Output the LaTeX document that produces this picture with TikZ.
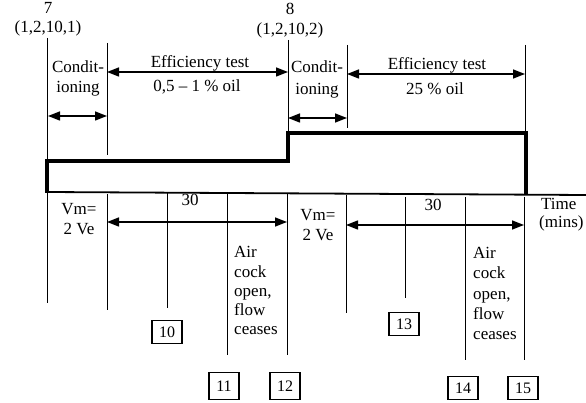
\documentclass[tikz,border=0pt]{standalone}
\usepackage{fontspec}
\setmainfont{Liberation Serif}
\usetikzlibrary{arrows.meta}
\begin{document}
\begin{tikzpicture}[x=1pt,y=-1pt,
  txt/.style={font=\fontsize{17}{20}\selectfont, inner sep=0pt, anchor=base},
  txtl/.style={txt, anchor=base west},
  guide/.style={line width=0.9pt},
  dim/.style={line width=1.4pt, {Triangle[length=12pt,width=9pt]}-{Triangle[length=12pt,width=9pt]}},
  wave/.style={line width=3.5pt, line join=miter},
  numbox/.style={draw, line width=1.2pt, minimum width=30pt, minimum height=23pt, inner sep=0pt, font=\fontsize{16}{18}\selectfont}
]
\useasboundingbox (0,0) rectangle (586,403);

% guide lines
\draw[guide] (47,38) -- (47,303);
\draw[guide] (107,43) -- (107,155);
\draw[guide] (107,194) -- (107,310);
\draw[guide] (167,193) -- (167,308);
\draw[guide] (227,194) -- (227,355);
\draw[guide] (288,40) -- (288,133);
\draw[guide] (287,194) -- (287,355);
\draw[guide] (347,45) -- (347,128);
\draw[guide] (346,195) -- (346,313);
\draw[guide] (405,197) -- (405,298);
\draw[guide] (465,197) -- (465,360);
\draw[guide] (525,45) -- (525,133);
\draw[guide] (524,197) -- (524,360);

% waveform and time axis
\draw[line width=1.8pt] (47,192) -- (586,195);
\draw[wave] (47,193) -- (47,161) -- (288,161) -- (288,133) -- (526,133) -- (526,195);

% dimension arrows
\coordinate (c1a) at (48,116);  \coordinate (c1b) at (107,116);
\coordinate (e1a) at (107,72);  \coordinate (e1b) at (288,72);
\coordinate (c2a) at (288,118); \coordinate (c2b) at (347,118);
\coordinate (e2a) at (347,74);  \coordinate (e2b) at (525,74);
\coordinate (t1a) at (107,222); \coordinate (t1b) at (287,222);
\coordinate (t2a) at (346,225); \coordinate (t2b) at (524,225);
\draw[dim] (c1a) -- (c1b);
\draw[dim] (e1a) -- (e1b);
\draw[dim] (c2a) -- (c2b);
\draw[dim] (e2a) -- (e2b);
\draw[dim] (t1a) -- (t1b);
\draw[dim] (t2a) -- (t2b);

% top labels
\node[txt] (n7) at (48,14) {7};
\node[txt] (r7) at (48,33) {(1,2,10,1)};
\node[txt] (n8) at (290,15) {8};
\node[txt] (r8) at (290,35) {(1,2,10,2)};
\node[txt] (cond1a) at (78,73) {Condit-};
\node[txt] (cond1b) at (78,93) {ioning};
\node[txt] (eff1a) at (200,68) {Efficiency test};
\node[txt] (eff1b) at (197,92) {0,5 -- 1 \% oil};
\node[txt] (cond2a) at (317,73) {Condit-};
\node[txt] (cond2b) at (317,95) {ioning};
\node[txt] (eff2a) at (437,70) {Efficiency test};
\node[txt] (eff2b) at (435,95) {25 \% oil};

% lower labels
\node[txt] (th1) at (190,206) {30};
\node[txt] (th2) at (433,211) {30};
\node[txt] (vm1a) at (79,215) {Vm=};
\node[txt] (vm1b) at (79,235) {2 Ve};
\node[txt] (vm2a) at (318,221) {Vm=};
\node[txt] (vm2b) at (318,241) {2 Ve};
\node[txtl] (ac1a) at (234,258) {Air};
\node[txtl] (ac1b) at (234,277) {cock};
\node[txtl] (ac1c) at (234,296) {open,};
\node[txtl] (ac1d) at (234,315) {flow};
\node[txtl] (ac1e) at (234,334) {ceases};
\node[txtl] (ac2a) at (473,259) {Air};
\node[txtl] (ac2b) at (473,279) {cock};
\node[txtl] (ac2c) at (473,299) {open,};
\node[txtl] (ac2d) at (473,319) {flow};
\node[txtl] (ac2e) at (473,339) {ceases};
\node[txtl] (tm1) at (541,210) {Time};
\node[txtl] (tm2) at (539,228) {(mins)};

% numbered boxes
\node[numbox] (b10) at (167,332) {10};
\node[numbox, minimum height=27pt] (b11) at (224,386) {11};
\node[numbox, minimum height=27pt] (b12) at (285,386) {12};
\node[numbox] (b13) at (404,324) {13};
\node[numbox] (b14) at (463,388) {14};
\node[numbox] (b15) at (523,388) {15};
\end{tikzpicture}
\end{document}
